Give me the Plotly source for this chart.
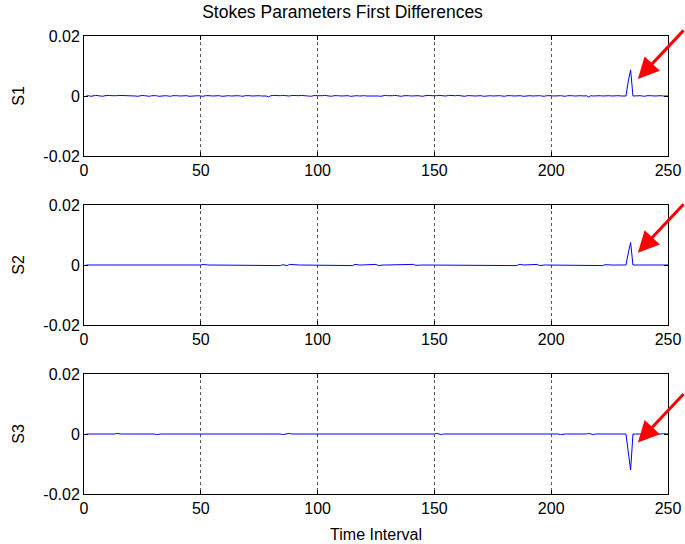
import plotly.graph_objects as go
from plotly.subplots import make_subplots

# ---------------- data (values in units of 1e-4) ----------------
scale = 1e-4
s1_vals = [
    0, 1, -1, 1, 2, 1, 0, -1, 1, 2, 2, 1, 0, 1, 2, 2, 1, 1, 2, 2, 1, 0, -1, 1, 2,
    1, 0, -1, 1, 2, 1, -1, 0, 2, 1, 0, -1, 1, 2, 1, 0, 1, 2, 1, -1, 0, 1, 2, 1, 0,
    -1, 1, 2, 1, 0, 1, 2, 1, -1, 0, 2, 1, 0, 1, 2, 1, 0, -1, 1, 2, 1, 0, 1, 2, 1,
    0, 1, 0, -3, 1, 2, 1, 0, 1, 2, 1, -1, 0, 2, 1, 0, 1, 2, 2, 1, 0, -1, 1, 2, 1,
    0, 1, 2, 1, 0, -1, 1, 2, 1, 0, 1, 2, 1, -1, 0, 2, 1, 0, 1, 1, 0, 0, 1, 2, 1,
    0, -1, 1, 2, 1, 0, 1, 2, 1, 0, -1, 1, 2, 1, 0, 1, 2, 1, 0, -1, 1, 2, 2, 1, 0,
    1, 2, 1, -1, 0, 2, 1, 0, 1, 2, 1, 0, -1, 1, 2, 1, 0, 1, 2, 1, -1, 0, 2, 1, 0,
    1, 2, 1, 0, -1, 1, 2, 1, 0, 1, 2, 1, -1, 0, 2, 1, 0, 1, 2, 1, 0, -1, 1, 2, 1,
    0, 1, 2, 1, 0, -1, 1, 2, 1, 0, 1, 2, 1, 0, 1, -3, 1, 0, 1, 2, 1, 0, 1, 2, 1,
    0, 1, 2, 1, 0, 1, 0, 50, 87, 0, 1, 2, 1, 0, -1, 1, 2, 1, 0, 1, 2, 1, 0, 1, 0,
]

# S2 / S3: zero except at these time indices
s2_idx = [3, 14, 51, 84, 85, 87, 88, 89, 90, 115, 116, 125, 126, 141, 142, 152,
          185, 186, 187, 194, 195, 222, 223, 233, 234, 240, 246]
s2_val = [-1, -2, 2, -2, 1, -2, 2, 1, 2, -2, 2, 2, -2, 2, -1, -2,
          -2, 1, 2, 2, -2, -2, 1, 40, 75, 2, 2]

s3_idx = [3, 12, 14, 21, 31, 39, 79, 85, 88, 91, 95, 115, 141, 151, 153, 183,
          194, 204, 213, 216, 218, 223, 233, 234, 246, 248]
s3_val = [-1, -2, 2, 2, -2, 2, 2, -2, 2, -1, -2, -2, -2, 2, -2, 2,
          2, -2, -2, 2, -2, -2, -60, -120, -2, 1]

n_points = 250
time = list(range(1, n_points + 1))

def build(idx, val):
    out = [0.0] * n_points
    for i, v in zip(idx, val):
        out[i - 1] = v * scale
    return out

s1 = [v * scale for v in s1_vals]
s2 = build(s2_idx, s2_val)
s3 = build(s3_idx, s3_val)

series = [s1, s2, s3]
ylabels = ["S1", "S2", "S3"]
x_ticks = [0, 50, 100, 150, 200, 250]
y_ticks = [-0.02, 0, 0.02]
y_ticktext = ["-0.02", "0", "0.02"]
arrow_tips = [(237.1, 0.0057), (237.1, 0.0041), (237.1, -0.0028)]

title = "Stokes Parameters First Differences"
xlabel = "Time Interval"

# ---------------- figure ----------------
FONT = "Liberation Sans, Arial, sans-serif"
fig = make_subplots(rows=3, cols=1)

domains = [[0.738, 1.0], [0.369, 0.631], [0.0, 0.262]]

for i, (ys, lab) in enumerate(zip(series, ylabels)):
    r = i + 1
    fig.add_trace(go.Scatter(x=time, y=ys, mode="lines",
                             line=dict(color="#0000FF", width=1),
                             showlegend=False, hoverinfo="skip"), row=r, col=1)
    fig.update_xaxes(range=[0, 250], tickvals=x_ticks, showgrid=True,
                     griddash="dot", gridcolor="#555555", gridwidth=1,
                     showline=True, linecolor="black", linewidth=1, mirror="ticks",
                     ticks="inside", ticklen=4, tickcolor="black", automargin=False,
                     zeroline=False, tickfont=dict(size=16, color="black", family=FONT),
                     domain=[0, 1], row=r, col=1)
    fig.update_yaxes(range=[-0.02, 0.02], tickvals=y_ticks, ticktext=y_ticktext,
                     showgrid=False, zeroline=False, automargin=False,
                     showline=True, linecolor="black", linewidth=1, mirror="ticks",
                     ticks="inside", ticklen=4, tickcolor="black",
                     tickfont=dict(size=16, color="black", family=FONT),
                     title=dict(text=lab, font=dict(size=16, color="black", family=FONT),
                                standoff=14),
                     domain=domains[i], row=r, col=1)
    xr = "x" if r == 1 else f"x{r}"
    yr = "y" if r == 1 else f"y{r}"
    tx, ty = arrow_tips[i]
    fig.add_annotation(x=tx, y=ty, xref=xr, yref=yr, ax=48, ay=-50,
                       text="", showarrow=True, arrowhead=2, arrowsize=1.4,
                       arrowwidth=3, arrowcolor="#FF0000", standoff=0)

fig.update_xaxes(title=dict(text=xlabel, font=dict(size=16, color="black", family=FONT),
                            standoff=12), row=3, col=1)

fig.update_layout(
    width=685, height=544,
    margin=dict(l=84, r=17, t=36, b=50),
    paper_bgcolor="white", plot_bgcolor="white",
    title=dict(text=title, x=0.5, xanchor="center", y=0.979, yanchor="middle",
               font=dict(size=17.5, color="black", family=FONT)),
    font=dict(family=FONT, color="black"),
)

fig.write_html("out.html")
